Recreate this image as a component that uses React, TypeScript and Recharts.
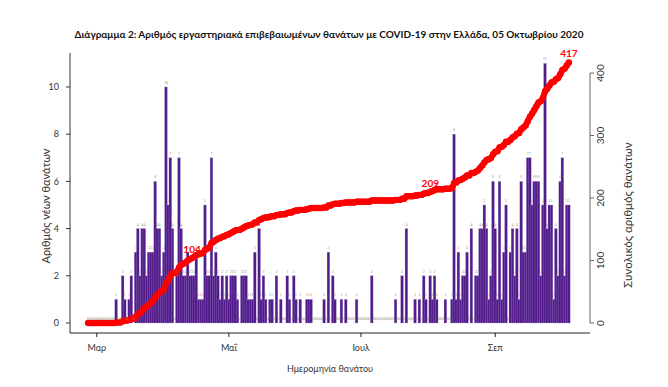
import React from 'react';
import { ComposedChart, Bar, Line, XAxis, YAxis, LabelList } from 'recharts';

// Day 0 = 26 Φεβ 2020, last day = 05 Οκτ 2020
const startDate = '2020-02-26';

const dailyDeaths: number[] = [
  0, 0, 0, 0, 0, 0, 0, 0, 0, 0, 0, 0, 0, 1, 0, 0, 2, 1, 0, 1,
  2, 0, 3, 4, 2, 4, 4, 2, 3, 3, 3, 6, 4, 4, 2, 3, 10, 5, 7, 4,
  0, 2, 7, 4, 2, 2, 3, 2, 2, 2, 3, 1, 1, 1, 5, 2, 2, 7, 2, 3,
  2, 1, 2, 1, 2, 1, 2, 2, 2, 1, 0, 2, 2, 2, 1, 1, 1, 3, 0, 4,
  1, 2, 1, 0, 1, 1, 0, 2, 0, 1, 0, 0, 2, 1, 0, 2, 1, 0, 1, 0,
  0, 1, 1, 1, 0, 0, 0, 0, 0, 1, 0, 3, 0, 2, 1, 0, 0, 1, 0, 1,
  0, 0, 0, 0, 1, 0, 0, 0, 0, 0, 0, 2, 0, 0, 0, 0, 0, 0, 0, 0,
  0, 0, 1, 0, 0, 2, 0, 4, 0, 0, 0, 1, 0, 1, 0, 2, 1, 0, 2, 1,
  2, 1, 0, 0, 0, 1, 0, 0, 1, 8, 1, 3, 1, 2, 2, 3, 0, 4, 0, 2,
  2, 4, 4, 5, 4, 1, 2, 6, 4, 1, 6, 1, 3, 5, 0, 3, 4, 2, 4, 1,
  6, 3, 3, 7, 7, 5, 6, 6, 6, 2, 5, 11, 4, 5, 5, 1, 4, 2, 6, 7,
  2, 5, 5,
];

const monthTickDays = [4, 65, 126, 188];
const monthTickLabels = ['Μαρ', 'Μαΐ', 'Ιουλ', 'Σεπ'];
const leftTicks = [0, 2, 4, 6, 8, 10];
const rightTicks = [0, 100, 200, 300, 400];
const milestones = [104, 209, 417];

const titleText =
  'Διάγραμμα 2: Αριθμός εργαστηριακά επιβεβαιωμένων θανάτων με COVID-19 στην Ελλάδα, 05 Οκτωβρίου 2020';
const xTitle = 'Ημερομηνία θανάτου';
const leftTitle = 'Αριθμός νέων θανάτων';
const rightTitle = 'Συνολικός αριθμός θανάτων';

let running = 0;
const data = dailyDeaths.map((v, i) => {
  running += v;
  return { day: i, deaths: v, total: running };
});
const milestoneIdx = milestones.map((m) => data.findIndex((d) => d.total >= m));

const FONT = 'Lato, "Open Sans", sans-serif';
const BAR_W = 2.7;

const DayBar = (props: any) => {
  const { x, y, width, height } = props;
  if (!height || height <= 0) return null;
  const cx = x + width / 2;
  return (
    <rect
      x={cx - BAR_W / 2}
      y={y}
      width={BAR_W}
      height={height}
      fill="#521C8A"
      stroke="#A995CF"
      strokeWidth={0.25}
    />
  );
};

const MilestoneLabel = (props: any) => {
  const { x, y, index } = props;
  const k = milestoneIdx.indexOf(index);
  if (k < 0) return null;
  return (
    <text
      x={x}
      y={y - 5}
      textAnchor="middle"
      fill="#ff0000"
      fontWeight="bold"
      fontSize={10}
      fontFamily={FONT}
    >
      {milestones[k]}
    </text>
  );
};

const RightTick = (props: any) => {
  const { x, y, payload } = props;
  return (
    <text
      x={x + 4}
      y={y}
      transform={`rotate(-90, ${x + 4}, ${y})`}
      textAnchor="middle"
      fontSize={10}
      fill="#333"
      fontFamily={FONT}
    >
      {payload.value}
    </text>
  );
};

export default function App() {
  return (
    <div style={{ position: 'absolute', left: 0, top: 0, width: 668, height: 387, background: '#fff' }}>
      <ComposedChart
        width={668}
        height={387}
        data={data}
        margin={{ top: 53, right: 0, bottom: 0, left: 0 }}
        barCategoryGap={0}
        barGap={0}
      >
        <XAxis
          type="category"
          dataKey="day"
          padding={{ left: 17, right: 20 }}
          ticks={monthTickDays}
          interval={0}
          tickFormatter={(v: number) => monthTickLabels[monthTickDays.indexOf(v)]}
          height={54}
          tickSize={4}
          tickMargin={8}
          axisLine={{ stroke: '#222' }}
          tickLine={{ stroke: '#222' }}
          tick={{ fontSize: 9, fill: '#333', fontFamily: FONT }}
        />
        <YAxis
          yAxisId="left"
          domain={[-0.424, 11.44]}
          allowDataOverflow
          ticks={leftTicks}
          interval={0}
          width={70}
          tickSize={4}
          tickMargin={7}
          axisLine={{ stroke: '#333' }}
          tickLine={{ stroke: '#333' }}
          tick={{ fontSize: 9, fill: '#333', fontFamily: FONT }}
        />
        <YAxis
          yAxisId="right"
          orientation="right"
          domain={[-16, 432]}
          allowDataOverflow
          ticks={rightTicks}
          interval={0}
          width={78}
          tickSize={4}
          tickMargin={6}
          axisLine={false}
          tickLine={{ stroke: '#666' }}
          tick={<RightTick />}
        />
        <Bar
          yAxisId="left"
          dataKey="deaths"
          fill="#521C8A"
          shape={<DayBar />}
          isAnimationActive={false}
        >
          <LabelList dataKey="deaths" position="top" offset={3} fontSize={4} fill="#8c8a78" />
        </Bar>
        <Line
          yAxisId="right"
          type="linear"
          dataKey="total"
          stroke="#ff0000"
          strokeWidth={6}
          dot={{ r: 3.2, fill: '#ff0000', stroke: 'none' }}
          isAnimationActive={false}
        >
          <LabelList dataKey="total" content={<MilestoneLabel />} />
        </Line>
      </ComposedChart>
      <svg
        width={668}
        height={387}
        style={{ position: 'absolute', left: 0, top: 0, pointerEvents: 'none' }}
      >
        <line x1={590} y1={73} x2={590} y2={323} stroke="#666" />
        <text x={329} y={38} textAnchor="middle" fontWeight="bold" fontSize={10} fill="#111" fontFamily={FONT}>
          {titleText}
        </text>
        <text x={330} y={372} textAnchor="middle" fontSize={9} fill="#333" fontFamily={FONT}>
          {xTitle}
        </text>
        <text x={50} y={206} textAnchor="middle" fontSize={11} fill="#333" fontFamily={FONT} transform="rotate(-90, 50, 206)">
          {leftTitle}
        </text>
        <text x={632} y={215} textAnchor="middle" fontSize={11.5} fill="#333" fontFamily={FONT} transform="rotate(-90, 632, 215)">
          {rightTitle}
        </text>
      </svg>
    </div>
  );
}
